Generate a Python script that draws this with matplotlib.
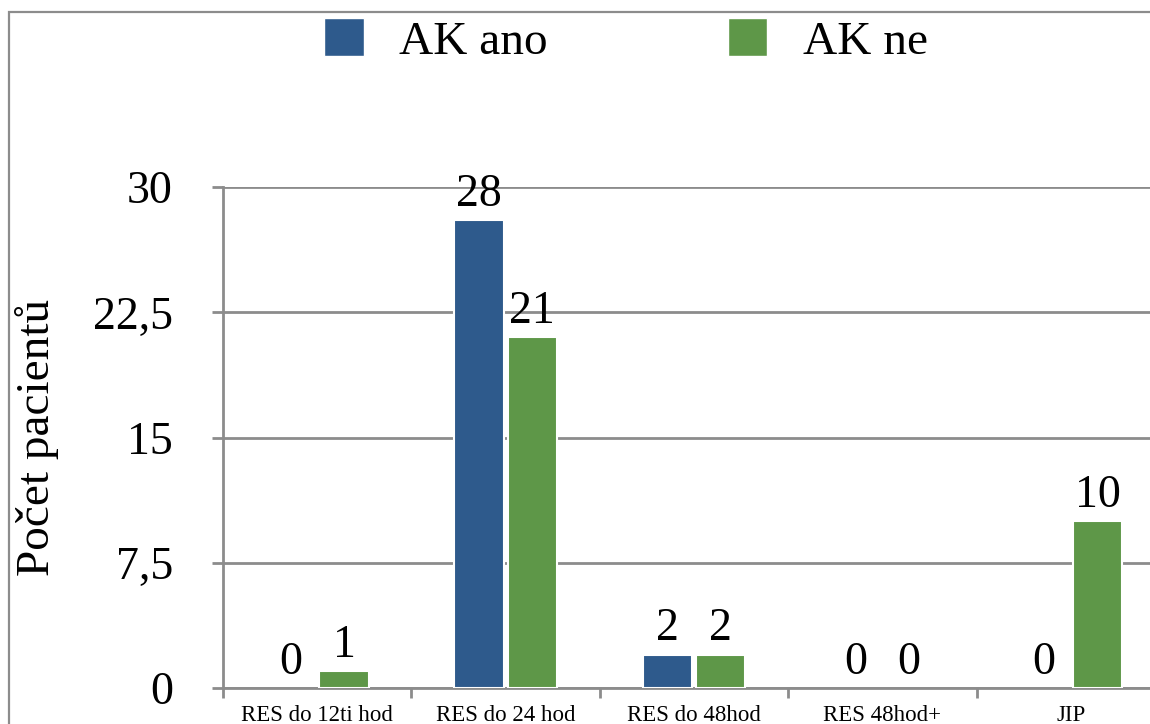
import matplotlib.pyplot as plt
from matplotlib.patches import Rectangle, Patch
import numpy as np

categories = ["RES do 12ti hod", "RES do 24 hod", "RES do 48hod", "RES 48hod+", "JIP"]
ak_ano = [0, 28, 2, 0, 0]
ak_ne = [1, 21, 2, 0, 10]
series_names = ["AK ano", "AK ne"]
yticks = [0, 7.5, 15, 22.5, 30]
ytick_labels = ["0", "7,5", "15", "22,5", "30"]

blue = "#2E5A8C"
green = "#5E9748"
grid_gray = "#8C8C8C"

plt.rcParams['font.family'] = ['Liberation Serif', 'DejaVu Serif']

W, H = 1150, 724
fig = plt.figure(figsize=(W / 100, H / 100), dpi=100)

# outer chart frame
fig.patches.append(Rectangle((9 / W, -0.5), 2.0, 1.5 - 12 / H, transform=fig.transFigure,
                             fill=False, edgecolor=grid_gray, linewidth=1.6))

ax = fig.add_axes([223 / W, 1 - 688 / H, (1165 - 223) / W, (688 - 187) / H])

x = np.arange(len(categories))
bw = 0.262
off = 0.142
b1 = ax.bar(x - off, ak_ano, bw, color=blue, edgecolor="white", linewidth=1.5, zorder=3)
b2 = ax.bar(x + off, ak_ne, bw, color=green, edgecolor="white", linewidth=1.5, zorder=3)

for bars, vals in ((b1, ak_ano), (b2, ak_ne)):
    for rect, v in zip(bars, vals):
        if v == 0:
            rect.set_linewidth(0)
        ax.annotate(f"{v}", (rect.get_x() + rect.get_width() / 2, v),
                    xytext=(0, 3), textcoords="offset points",
                    ha="center", va="bottom", fontsize=33, zorder=4)

ax.set_xlim(-0.5, len(categories) - 0.5)
ax.set_ylim(0, 30)
ax.set_yticks(yticks)
ax.set_yticklabels(ytick_labels, fontsize=33)
ax.yaxis.grid(True, color=grid_gray, linewidth=2)
ax.set_axisbelow(True)

# category boundaries as major ticks, labels on minor ticks
ax.set_xticks(np.arange(len(categories) + 1) - 0.5)
ax.set_xticklabels([])
ax.set_xticks(x, minor=True)
ax.set_xticklabels(categories, minor=True, fontsize=16.5)
ax.tick_params(axis="x", which="major", length=7, width=2, color=grid_gray)
ax.tick_params(axis="x", which="minor", length=0, pad=12)
ax.tick_params(axis="y", length=8, width=2, color=grid_gray, pad=28)

for s in ("top", "right"):
    ax.spines[s].set_visible(False)
for s in ("left", "bottom"):
    ax.spines[s].set_color(grid_gray)
    ax.spines[s].set_linewidth(2)

fig.text(37 / W, 1 - 437 / H, "Počet pacientů", rotation=90, ha="center", va="center",
         fontsize=34)

handles = [Patch(facecolor=blue, edgecolor="white"), Patch(facecolor=green, edgecolor="white")]
fig.legend(handles, series_names, loc="center", bbox_to_anchor=(626 / W, 1 - 41 / H),
           ncol=2, frameon=False, fontsize=34, handlelength=0.84, handleheight=0.84,
           handletextpad=0.75, columnspacing=3.8, borderpad=0)

fig.savefig("out.png", dpi=100)
